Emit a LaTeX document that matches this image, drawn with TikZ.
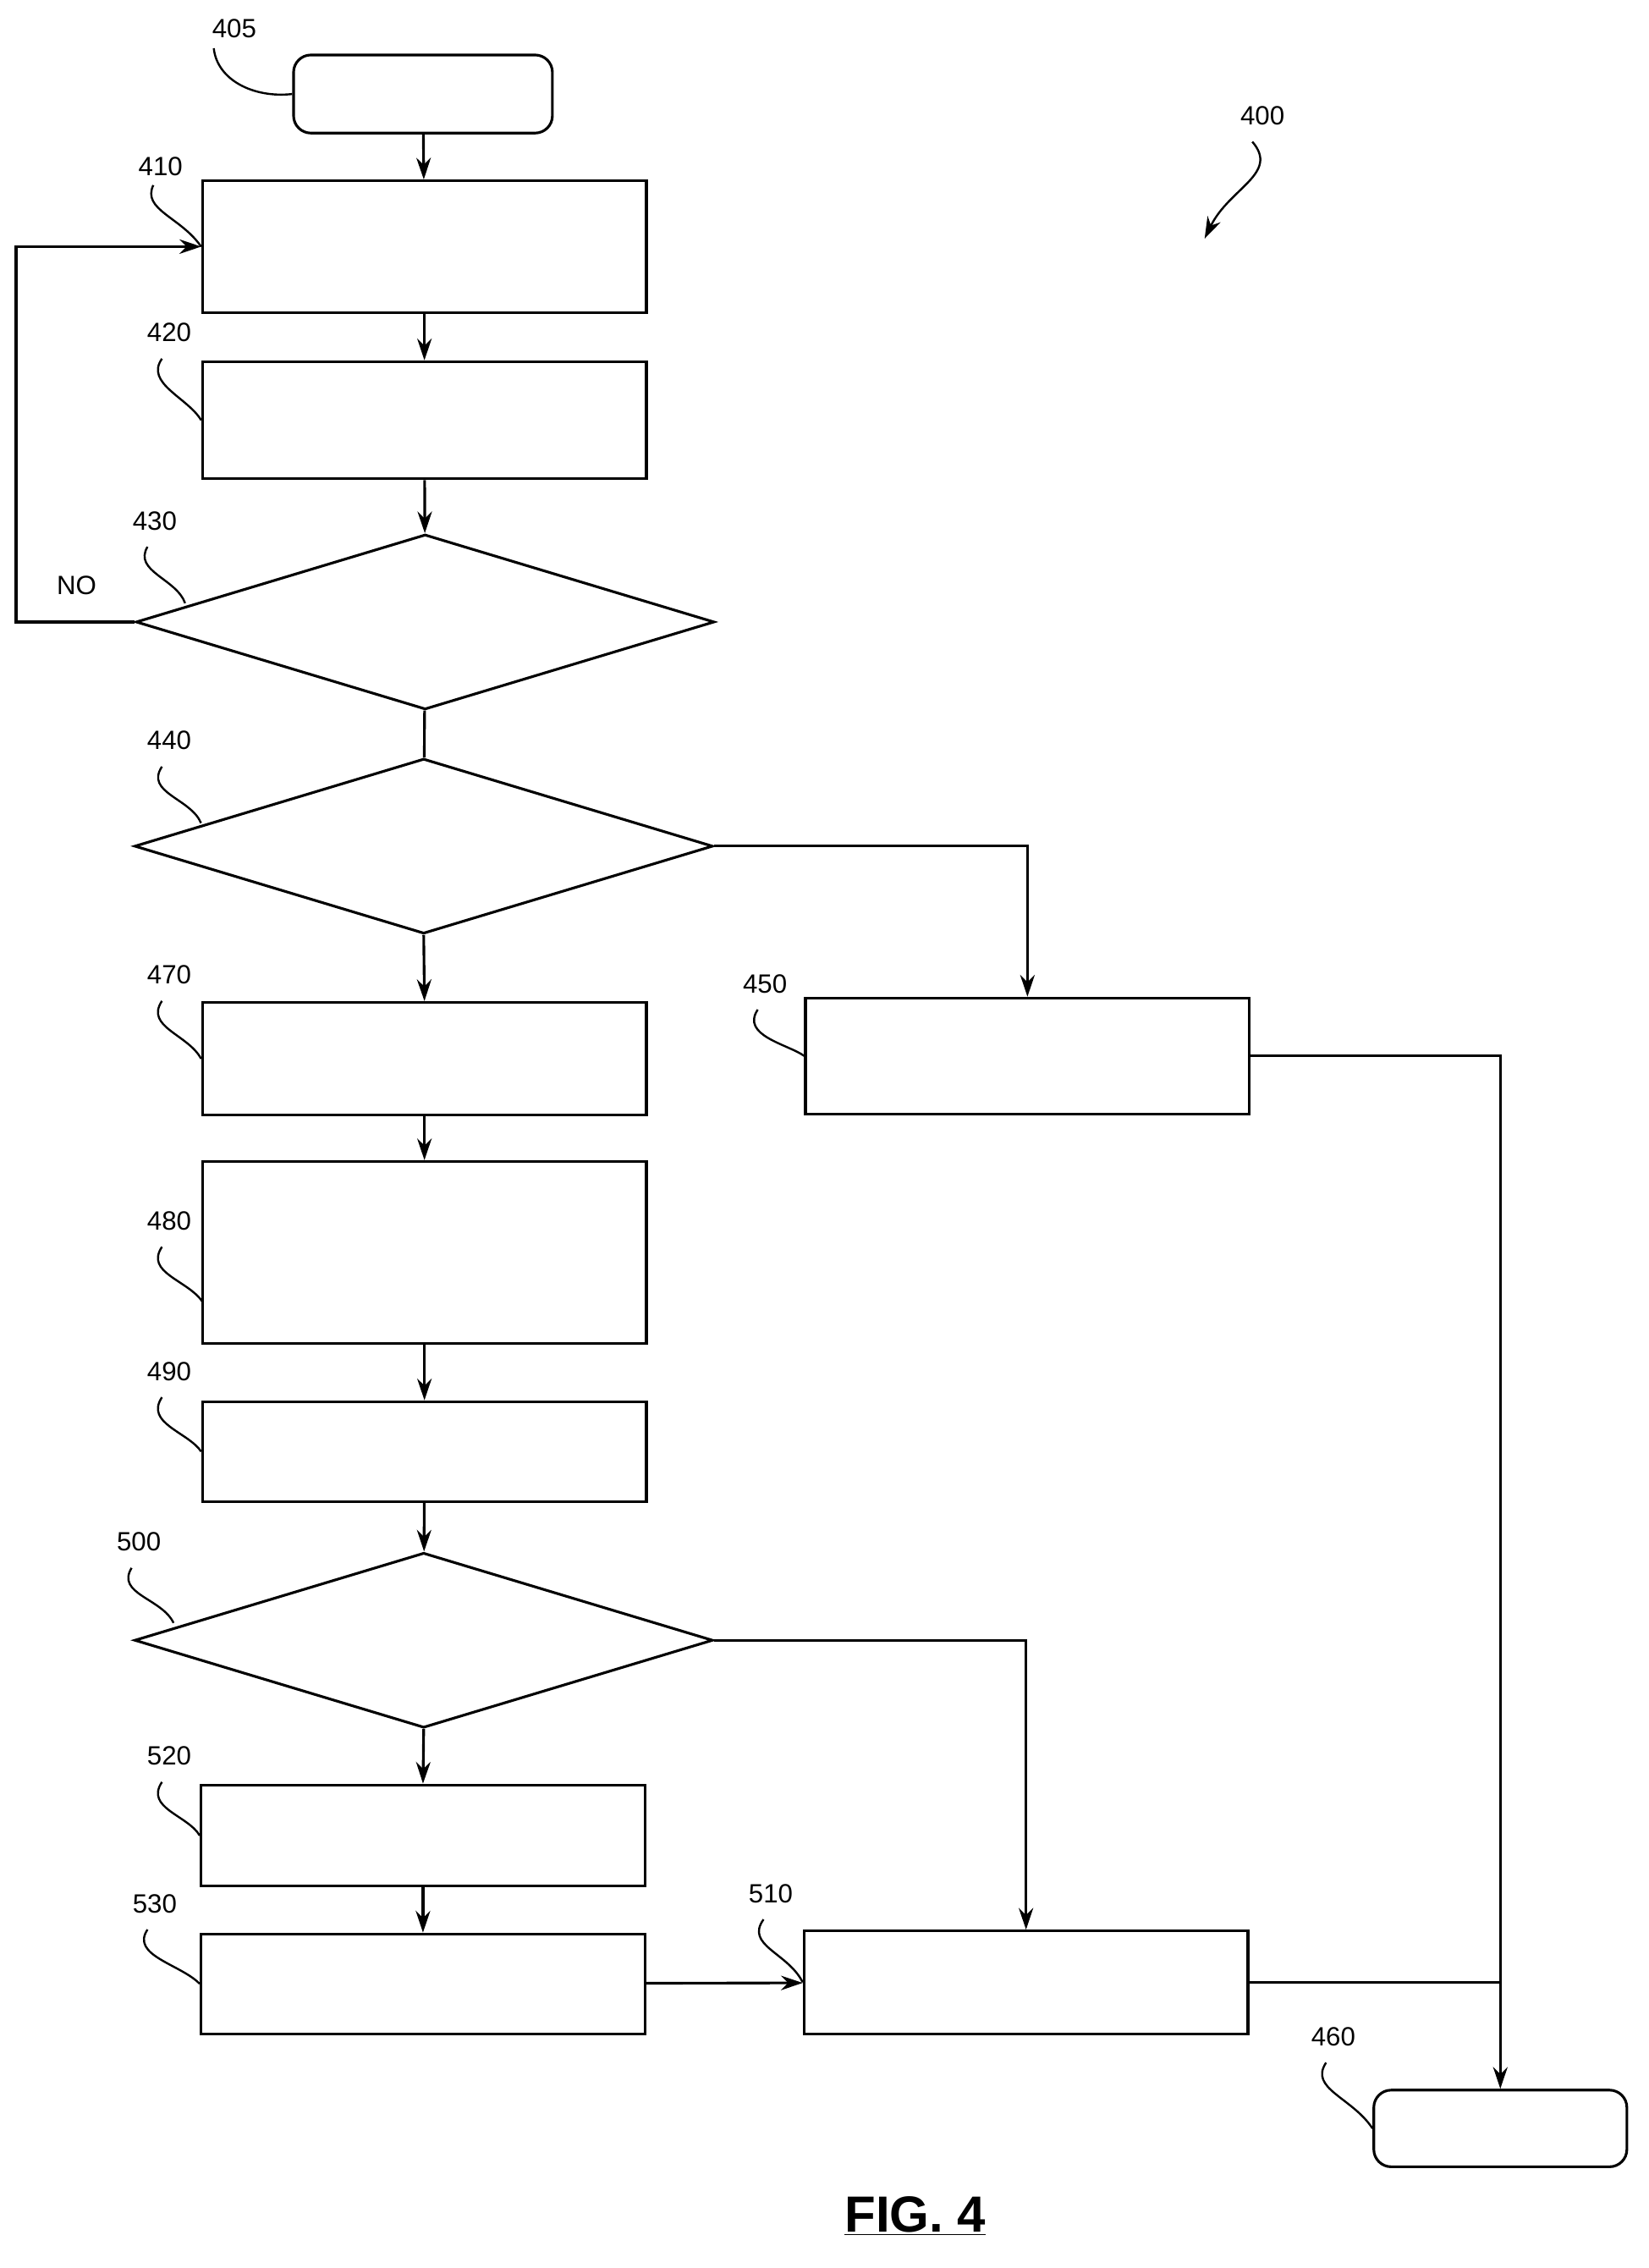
\documentclass[tikz,border=0pt]{standalone}
\usepackage{fontspec}
\setmainfont{Liberation Sans}
\usetikzlibrary{shapes.geometric,arrows.meta}
\begin{document}
\begin{tikzpicture}[x=0.05cm,y=-0.05cm,line width=2.6pt,
  box/.style 2 args={draw,rectangle,minimum width=#1*0.05cm,minimum height=#2*0.05cm,inner sep=0pt},
  term/.style 2 args={draw,rectangle,rounded corners=0.6cm,minimum width=#1*0.05cm,minimum height=#2*0.05cm,inner sep=0pt},
  dia/.style={draw,diamond,aspect=3.3,minimum width=400*0.05cm,minimum height=121*0.05cm,inner sep=0pt},
  arr/.style={-{Stealth[length=0.75cm,width=0.5cm]}},
  lbl/.style={font=\fontsize{26}{30}\selectfont,inner sep=0pt},
  lead/.style={line width=2pt}]
\useasboundingbox (0,0) rectangle (1140,1568);
\node[term={179}{54}] (s405) at (292.5,65) {};
\node[box={307}{91}] (b410) at (293.5,170.5) {};
\node[box={307}{81}] (b420) at (293.5,290.5) {};
\node[dia] (d430) at (294,430) {};
\node[dia] (d440) at (293,585) {};
\node[box={307}{78}] (b470) at (293.5,732) {};
\node[box={307}{80}] (b450) at (710.5,730) {};
\node[box={307}{126}] (b480) at (293.5,866) {};
\node[box={307}{69}] (b490) at (293.5,1003.5) {};
\node[dia] (d500) at (293,1134) {};
\node[box={307}{70}] (b520) at (292.5,1269) {};
\node[box={307}{69}] (b530) at (292.5,1371.5) {};
\node[box={307}{71}] (b510) at (709.5,1370.5) {};
\node[term={175}{53}] (e460) at (1037.5,1471.5) {};
% connectors
\draw[arr] (s405) -- (b410);
\draw[arr] (b410) -- (b420);
\draw[arr] (b420) -- (d430);
\draw (d430) -- (d440);
\draw[arr] (d430.west) -- ++(-82,0) coordinate (c1) |- (b410.west);
\draw[arr] (d440.south) -- (b470.north);
\draw[arr] (d440.east) -| (b450.north);
\draw[arr] (b450.east) -| (e460.north);
\draw[arr] (b470) -- (b480);
\draw[arr] (b480) -- (b490);
\draw[arr] (b490) -- (d500);
\draw[arr] (d500.south) -- (b520.north);
\draw[arr] (d500.east) -| (b510.north);
\draw[arr] (b520) -- (b530);
\draw[arr] (b530) -- (b510);
\draw (b510.east) -- (b510.east -| e460.north);
\node[lbl] (no) at (53,405) {NO};
% labels and leaders
\node[lbl] (l405) at (162,20) {405};
\draw[lead] (l405.south west)++(2,6) .. controls (150,55) and (175,68) .. (s405.west);
\node[lbl] (l410) at (111,115) {410};
\draw[lead] (106,128) .. controls (98,145) and (125,150) .. (b410.west);
\node[lbl] (l420) at (117,230) {420};
\draw[lead] (112,248) .. controls (100,265) and (130,275) .. ([yshift=0]b420.west);
\node[lbl] (l430) at (107,360) {430};
\draw[lead] (102,378) .. controls (92,395) and (122,400) .. (128,417);
\node[lbl] (l440) at (117,512) {440};
\draw[lead] (112,530) .. controls (100,548) and (132,552) .. (139,569);
\node[lbl] (l470) at (117,674) {470};
\draw[lead] (112,692) .. controls (100,710) and (130,715) .. (b470.west);
\node[lbl] (l450) at (529,680) {450};
\draw[lead] (524,698) .. controls (512,716) and (545,722) .. (b450.west);
\node[lbl] (l480) at (117,844) {480};
\draw[lead] (112,862) .. controls (100,880) and (130,885) .. (140,900);
\node[lbl] (l490) at (117,948) {490};
\draw[lead] (112,966) .. controls (100,984) and (130,990) .. (b490.west);
\node[lbl] (l500) at (96,1066) {500};
\draw[lead] (91,1084) .. controls (80,1102) and (112,1105) .. (120,1122);
\node[lbl] (l520) at (117,1214) {520};
\draw[lead] (112,1232) .. controls (100,1250) and (130,1255) .. (b520.west);
\node[lbl] (l530) at (107,1316) {530};
\draw[lead] (102,1334) .. controls (90,1352) and (125,1358) .. (b530.west);
\node[lbl] (l510) at (533,1309) {510};
\draw[lead] (528,1327) .. controls (515,1345) and (545,1350) .. (b510.west);
\node[lbl] (l460) at (922,1408) {460};
\draw[lead] (917,1426) .. controls (905,1444) and (935,1450) .. (e460.west);
\node[lbl] (l400) at (873,80) {400};
\draw[lead,arr] (866,98) .. controls (885,120) and (850,130) .. (833,165);
\node[inner sep=0pt,font=\bfseries\fontsize{50}{56}\selectfont] (fig) at (633,1532) {\underline{FIG. 4}};
\end{tikzpicture}
\end{document}
